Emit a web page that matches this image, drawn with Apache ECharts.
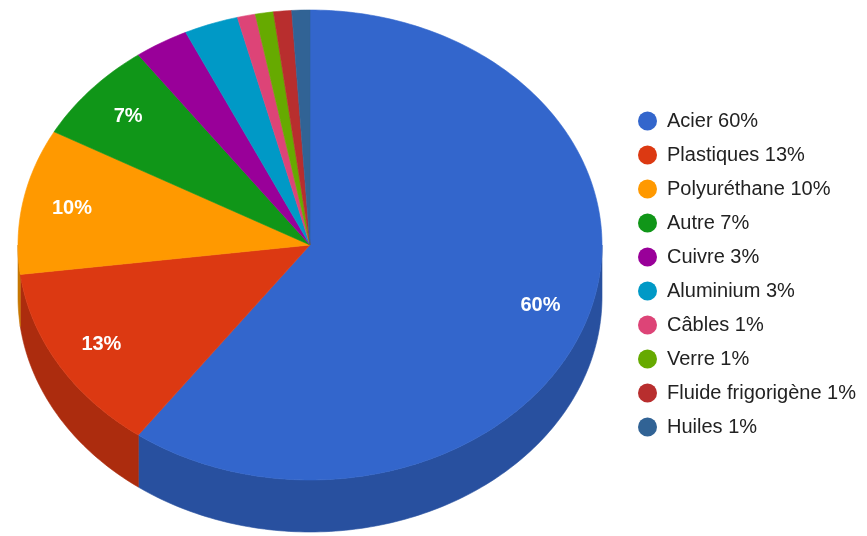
<!DOCTYPE html>
<html><head><meta charset="utf-8">
<script src="https://cdn.jsdelivr.net/npm/echarts@6/dist/echarts.min.js"></script>
<style>html,body{margin:0;padding:0;background:#fff}#c{width:867px;height:536px}</style>
</head><body><div id="c"></div>
<script>
const categories = ['Acier','Plastiques','Polyuréthane','Autre','Cuivre','Aluminium','Câbles','Verre','Fluide frigorigène','Huiles'];
const values = [60,13,10,7,3,3,1,1,1,1];
const colors = ['#3366cc','#dc3912','#ff9900','#109618','#990099','#0099c6','#dd4477','#66aa00','#b82e2e','#316395'];

const CX = 310, CY = 245, RX = 292, RY = 235, DEPTH = 52;
const FONT = 'Liberation Sans, Arial, Helvetica, sans-serif';

const total = values.reduce((a, b) => a + b, 0);
const cum = [0];
values.forEach((v, i) => cum.push(cum[i] + v));

function darken(hex, f) {
  const n = parseInt(hex.slice(1), 16);
  const r = Math.round(((n >> 16) & 255) * f), g = Math.round(((n >> 8) & 255) * f), b = Math.round((n & 255) * f);
  return 'rgb(' + r + ',' + g + ',' + b + ')';
}
function pt(t, dy) { return [CX + RX * Math.sin(t), CY - RY * Math.cos(t) + (dy || 0)]; }
function arc(a, b, dy) {
  const pts = [];
  const n = Math.max(2, Math.ceil(Math.abs(b - a) / (Math.PI / 180)));
  for (let i = 0; i <= n; i++) pts.push(pt(a + (b - a) * i / n, dy));
  return pts;
}

function renderItem(params, api) {
  const i = params.dataIndex;
  const a0 = cum[i] / total * Math.PI * 2;
  const a1 = cum[i + 1] / total * Math.PI * 2;
  const col = colors[i];
  const children = [];
  const s = Math.max(a0, Math.PI / 2), e = Math.min(a1, Math.PI * 1.5);
  if (s < e) {
    const pts = arc(s, e, 0).concat(arc(e, s, DEPTH));
    const side = darken(col, 0.78);
    children.push({ type: 'polygon', z2: 1, shape: { points: pts }, style: { fill: side, stroke: side, lineWidth: 0.6 } });
  }
  const top = [[CX, CY]].concat(arc(a0, a1, 0));
  children.push({ type: 'polygon', z2: 5, shape: { points: top }, style: { fill: col, stroke: col, lineWidth: 0.6 } });
  const v = api.value(0);
  if (v / total >= 0.05) {
    const m = (a0 + a1) / 2;
    children.push({ type: 'text', z2: 10, x: CX + 0.83 * RX * Math.sin(m), y: CY - 0.83 * RY * Math.cos(m),
      style: { text: v + '%', fill: '#fff', font: 'bold 20px ' + FONT, align: 'center', verticalAlign: 'middle' } });
  }
  return { type: 'group', children: children };
}

const chart = echarts.init(document.getElementById('c'));
chart.setOption({
  animation: false,
  color: colors,
  legend: {
    orient: 'vertical', left: 633, top: 106, icon: 'circle', itemWidth: 19, itemHeight: 19, itemGap: 14,
    selectedMode: false, data: categories,
    formatter: n => n + ' ' + values[categories.indexOf(n)] + '%',
    textStyle: { fontSize: 20, lineHeight: 19, color: '#222', fontFamily: FONT, padding: [0, 0, 0, 5] }
  },
  series: [
    { type: 'custom', coordinateSystem: 'none', renderItem: renderItem, silent: true,
      data: values.map((v, i) => ({ name: categories[i], value: [v] })) },
    { type: 'pie', radius: [0, 0], center: [-100, -100], silent: true, label: { show: false }, labelLine: { show: false },
      data: values.map((v, i) => ({ name: categories[i], value: v })) }
  ]
});
</script></body></html>
